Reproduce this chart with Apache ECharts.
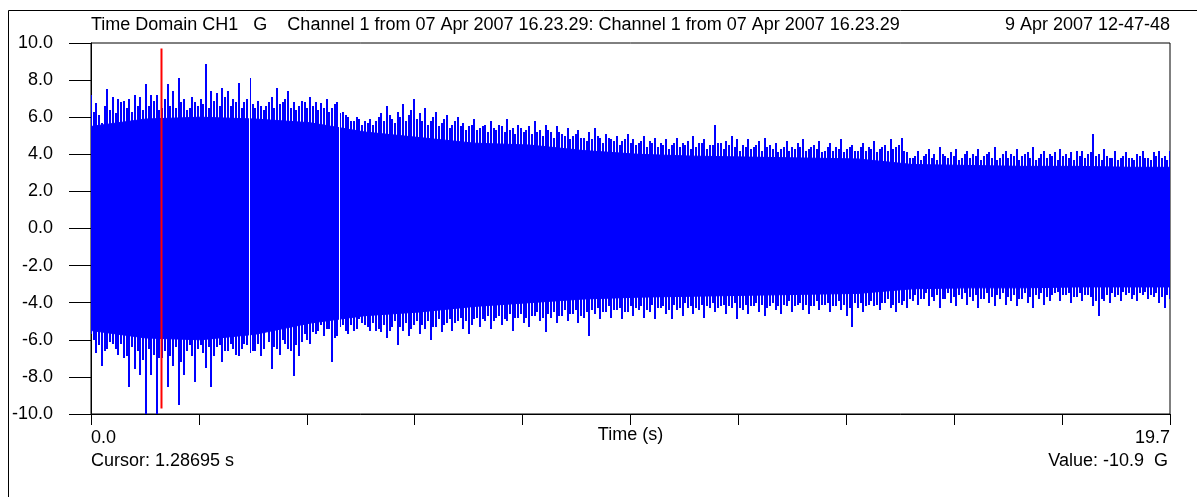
<!DOCTYPE html>
<html><head><meta charset="utf-8">
<script src="https://cdn.jsdelivr.net/npm/echarts@6/dist/echarts.min.js"></script>
<style>html,body{margin:0;padding:0;background:#fff}#c{width:1197px;height:497px}</style>
</head><body><div id="c"></div>
<script>
// ---- texts ----
const titleText = 'Time Domain CH1   G    Channel 1 from 07 Apr 2007 16.23.29: Channel 1 from 07 Apr 2007 16.23.29';
const dateText = '9 Apr 2007 12-47-48';
const cursorText = 'Cursor: 1.28695 s';
const valueText = 'Value: -10.9  G';
const xAxisName = 'Time (s)';
// ---- axes ----
const xMin = 0, xMax = 19.7, xInterval = 1.97;
const yMin = -10, yMax = 10, yInterval = 2;
const xTickLabels = ['0.0', '19.7'];
// ---- signal: peak values every 0.1 s starting at 0.0 s ----
const sampleStep = 0.1;
const upperPeaks = [
 7.2, 6.75, 5.7, 7.5, 7.1, 7.0, 6.9, 7.0, 7.2, 7.1,
 7.8, 7.2, 7.2, 6.5, 7.8, 7.4, 8.1, 7.0, 6.5, 6.8,
 7.0, 8.85, 7.4, 7.3, 7.6, 7.4, 7.0, 7.85, 6.8, 8.1,
 6.5, 6.6, 6.6, 7.1, 7.6, 6.8, 7.4, 6.8, 6.6, 6.8,
 7.1, 6.8, 6.75, 7.0, 6.5, 6.8, 6.3, 6.0, 5.8, 5.9,
 5.8, 5.9, 5.8, 6.2, 6.6, 5.9, 6.3, 6.7, 6.1, 7.0,
 6.2, 6.5, 5.8, 6.3, 5.7, 6.1, 5.6, 6.0, 5.7, 5.5,
 5.9, 5.4, 5.6, 5.8, 5.3, 5.5, 5.9, 5.4, 5.6, 5.2,
 5.5, 5.8, 5.3, 5.6, 5.2, 5.5, 5.1, 5.4, 5.0, 5.3,
 4.9, 5.2, 5.4, 4.9, 5.1, 4.8, 5.0, 4.7, 5.1, 4.8,
 4.6, 5.0, 4.7, 4.9, 4.6, 4.8, 4.5, 4.9, 4.6, 4.7,
 5.0, 4.6, 4.8, 4.5, 5.6, 4.6, 4.7, 5.0, 4.8, 4.5,
 4.8, 4.4, 4.7, 4.9, 4.5, 4.6, 4.3, 4.7, 4.4, 4.6,
 4.8, 4.3, 4.5, 4.7, 4.2, 4.6, 4.4, 4.8, 4.3, 4.5,
 4.2, 4.6, 4.4, 4.7, 4.3, 4.5, 4.8, 4.4, 4.9, 4.1,
 3.8, 4.2, 3.9, 4.3, 4.0, 4.4, 3.9, 4.1, 4.3, 3.8,
 4.2, 4.0, 4.3, 3.9, 4.1, 4.4, 3.8, 4.2, 4.0, 4.3,
 3.9, 4.1, 4.4, 3.8, 4.2, 4.0, 4.1, 4.3, 4.0, 4.1,
 4.2, 4.2, 4.0, 5.1, 4.0, 4.3, 3.8, 4.2, 3.8, 4.1,
 3.8, 4.0, 4.2, 3.8, 4.1, 4.2, 3.9, 4.2
];
const lowerPeaks = [
 -5.7, -6.7, -7.4, -6.5, -6.2, -6.8, -7.0, -8.55, -7.6, -7.9,
 -10.0, -7.9, -10.9, -7.0, -8.55, -7.4, -9.5, -7.9, -6.3, -8.3,
 -6.3, -7.5, -8.55, -6.4, -7.2, -6.6, -6.5, -6.9, -6.2, -6.7,
 -6.6, -6.9, -5.5, -7.6, -6.5, -6.0, -6.5, -7.95, -6.9, -5.7,
 -6.2, -5.7, -5.2, -5.4, -7.2, -5.8, -5.2, -5.7, -5.5, -4.9,
 -5.2, -5.5, -5.5, -5.6, -5.9, -5.3, -6.3, -5.5, -5.8, -5.2,
 -5.7, -5.4, -6.0, -5.3, -5.6, -5.1, -5.5, -5.0, -5.4, -5.7,
 -4.9, -5.3, -5.0, -5.4, -4.8, -5.2, -5.0, -5.5, -4.8, -5.1,
 -5.3, -4.7, -5.0, -5.6, -4.8, -5.1, -4.7, -5.0, -4.6, -5.1,
 -4.8, -5.8, -4.6, -4.9, -4.5, -4.8, -4.4, -4.9, -4.5, -4.7,
 -4.4, -4.8, -4.5, -4.9, -4.3, -4.6, -4.9, -4.4, -4.7, -4.3,
 -4.6, -4.4, -4.8, -4.3, -4.5, -4.2, -4.6, -4.3, -4.9, -4.4,
 -4.6, -4.2, -4.5, -4.7, -4.2, -4.4, -4.6, -4.2, -4.5, -4.1,
 -4.4, -4.6, -4.2, -4.4, -4.1, -4.5, -4.2, -4.4, -4.7, -5.3,
 -4.3, -4.5, -4.1, -4.2, -4.4, -4.0, -4.3, -4.5, -4.1, -4.3,
 -3.9, -4.1, -3.8, -4.2, -3.9, -4.3, -3.8, -4.0, -4.2, -3.8,
 -4.1, -3.9, -4.3, -3.8, -4.0, -4.2, -3.8, -4.1, -3.9, -4.2,
 -3.8, -4.0, -4.3, -3.8, -4.1, -3.9, -3.5, -3.9, -3.6, -4.0,
 -3.7, -3.9, -3.6, -4.2, -4.7, -3.9, -4.0, -3.7, -3.9, -3.6,
 -3.8, -3.9, -3.6, -3.8, -3.7, -4.0, -4.3, -3.8
];
// ---- in-between peaks every 0.1 s starting at 0.05 s ----
const midOffset = 0.05;
const upperMid = [
 6.3, 6.1, 6.6, 6.4, 6.2, 6.8, 6.5, 6.3, 6.6, 6.4,
 6.6, 6.9, 6.4, 7.0, 6.6, 6.5, 6.8, 6.4, 7.1, 6.6,
 6.7, 6.5, 6.9, 6.6, 7.1, 6.6, 6.8, 6.5, 7.0, 6.7,
 6.9, 6.4, 6.8, 6.5, 6.7, 7.0, 6.5, 6.4, 6.9, 6.5,
 6.6, 6.4, 6.5, 6.3, 6.7, 6.2, 6.1, 5.8, 6.0, 5.6,
 5.7, 5.6, 6.0, 5.8, 6.1, 5.7, 6.0, 5.8, 6.4, 5.9,
 5.8, 5.6, 6.0, 5.5, 5.9, 5.4, 5.8, 5.5, 5.3, 5.6,
 5.3, 5.5, 5.2, 5.4, 5.6, 5.2, 5.3, 5.1, 5.4, 5.3,
 5.1, 5.2, 5.0, 5.3, 4.9, 5.2, 5.0, 4.8, 5.1, 4.9,
 4.7, 4.8, 5.0, 4.6, 4.9, 4.7, 4.5, 4.8, 4.6, 4.5,
 4.7, 4.4, 4.6, 4.4, 4.5, 4.3, 4.6, 4.4, 4.5, 4.3,
 4.4, 4.6, 4.3, 4.5, 4.6, 4.3, 4.5, 4.4, 4.2, 4.4,
 4.3, 4.5, 4.2, 4.4, 4.3, 4.1, 4.4, 4.2, 4.3, 4.4,
 4.2, 4.4, 4.3, 4.1, 4.4, 4.2, 4.3, 4.1, 4.4, 4.2,
 4.4, 4.2, 4.3, 4.1, 4.4, 4.2, 4.3, 4.5, 4.2, 3.8,
 3.9, 3.7, 4.0, 3.8, 3.7, 4.0, 3.8, 3.9, 3.7, 4.0,
 3.8, 3.9, 3.7, 4.0, 3.8, 3.7, 4.0, 3.8, 3.9, 3.7,
 4.0, 3.8, 3.7, 4.0, 3.8, 3.9, 3.7, 3.9, 3.8, 3.7,
 3.9, 3.8, 4.1, 3.9, 3.7, 3.9, 3.8, 3.7, 3.9, 3.8,
 3.7, 3.9, 3.8, 3.7, 3.9, 3.8, 3.7
];
const lowerMid = [
 -6.0, -6.3, -6.6, -6.1, -6.5, -6.2, -6.9, -6.4, -6.6, -7.1,
 -6.5, -6.8, -7.0, -6.6, -6.9, -6.4, -7.2, -6.6, -6.9, -6.5,
 -6.7, -6.4, -6.9, -6.3, -6.6, -6.2, -6.8, -6.5, -6.3, -6.6,
 -6.2, -6.5, -6.1, -6.4, -6.8, -6.2, -6.6, -6.3, -6.1, -6.0,
 -5.6, -5.5, -5.8, -5.4, -5.9, -5.3, -5.5, -5.2, -5.4, -5.1,
 -5.3, -5.1, -5.4, -5.2, -5.5, -5.0, -5.3, -5.1, -5.4, -5.0,
 -5.2, -5.0, -5.3, -4.9, -5.2, -4.9, -5.1, -4.8, -5.0, -5.2,
 -4.8, -4.9, -4.7, -5.0, -4.7, -4.9, -4.6, -4.8, -4.6, -4.8,
 -4.7, -4.5, -4.8, -4.6, -4.5, -4.7, -4.4, -4.6, -4.4, -4.7,
 -4.5, -4.4, -4.3, -4.5, -4.2, -4.4, -4.3, -4.5, -4.2, -4.3,
 -4.2, -4.4, -4.1, -4.3, -4.2, -4.4, -4.1, -4.3, -4.0, -4.2,
 -4.3, -4.1, -4.2, -4.0, -4.3, -4.1, -4.2, -4.0, -4.3, -4.1,
 -4.2, -4.0, -4.1, -4.3, -4.0, -4.2, -4.1, -3.9, -4.2, -4.0,
 -4.1, -4.2, -3.9, -4.1, -4.0, -4.2, -3.9, -4.1, -4.3, -4.0,
 -4.0, -4.2, -3.9, -4.1, -4.0, -3.8, -4.1, -4.0, -3.9, -3.8,
 -3.6, -3.8, -3.5, -3.7, -3.6, -3.8, -3.5, -3.7, -3.6, -3.5,
 -3.7, -3.6, -3.8, -3.5, -3.7, -3.6, -3.5, -3.7, -3.6, -3.8,
 -3.5, -3.7, -3.6, -3.5, -3.7, -3.6, -3.4, -3.6, -3.5, -3.7,
 -3.5, -3.6, -3.7, -3.9, -3.8, -3.6, -3.5, -3.6, -3.4, -3.5,
 -3.6, -3.5, -3.4, -3.6, -3.5, -3.7, -3.6
];
// ---- dense body of the signal (envelope, per second) ----
const baseTimes = [0, 1, 2, 3, 4, 5, 6, 7, 8, 9, 10, 11, 12, 13, 14, 15, 16, 17, 18, 19, 19.7];
const upperBase = [5.5, 5.9, 6.0, 5.9, 5.7, 5.2, 4.9, 4.6, 4.5, 4.2, 4.0, 3.9, 3.85, 3.8, 3.75, 3.45, 3.4, 3.35, 3.35, 3.3, 3.3];
const lowerBase = [-5.5, -5.9, -6.0, -5.7, -5.1, -4.7, -4.5, -4.2, -4.0, -3.8, -3.7, -3.65, -3.6, -3.55, -3.5, -3.25, -3.2, -3.2, -3.15, -3.15, -3.15];
// ---- markers ----
const cursorTime = 1.28695;
const cursorSpan = [9.7, -9.7];
const dropoutTimes = [2.88, 4.53];

const FONT = "'Liberation Sans', Arial, sans-serif";
const FS = 18;
const BLUE = '#0000ff';

const peakData = upperPeaks.map((u, i) => [+(i * sampleStep).toFixed(2), u, lowerPeaks[i]])
  .concat(upperMid.map((u, i) => [+(i * sampleStep + midOffset).toFixed(2), u, lowerMid[i]]));

const chart = echarts.init(document.getElementById('c'), null, { renderer: 'canvas' });
chart.setOption({
  animation: false,
  backgroundColor: '#fff',
  textStyle: { fontFamily: FONT, fontSize: FS, color: '#000' },
  grid: { left: 91, right: 27, top: 43, bottom: 83, show: true, borderColor: '#000', borderWidth: 1, backgroundColor: 'transparent' },
  xAxis: {
    type: 'value', min: xMin, max: xMax, interval: xInterval,
    name: xAxisName, nameLocation: 'middle', nameGap: 12, nameMoveOverlap: false,
    nameTextStyle: { fontFamily: FONT, fontSize: FS, color: '#000', verticalAlign: 'top' },
    axisLine: { show: true, onZero: false, lineStyle: { color: '#000', width: 1 } },
    axisTick: { show: true, inside: false, length: 11, lineStyle: { color: '#000', width: 1 } },
    splitLine: { show: false },
    axisLabel: {
      show: true, margin: 15, fontFamily: FONT, fontSize: FS, color: '#000',
      showMinLabel: true, showMaxLabel: true,
      alignMinLabel: 'left', alignMaxLabel: 'right',
      formatter: v => (Math.abs(v - xMin) < 1e-6 ? xTickLabels[0] : (Math.abs(v - xMax) < 1e-6 ? xTickLabels[1] : ''))
    }
  },
  yAxis: {
    type: 'value', min: yMin, max: yMax, interval: yInterval,
    axisLine: { show: true, onZero: false, lineStyle: { color: '#000', width: 1 } },
    axisTick: { show: true, inside: false, length: 22, lineStyle: { color: '#000', width: 1 } },
    splitLine: { show: false },
    axisLabel: { margin: 38, fontFamily: FONT, fontSize: FS, color: '#000', formatter: v => v.toFixed(1) }
  },
  graphic: [
    { type: 'rect', silent: true, z: -1, shape: { x: 8.5, y: 10.5, width: 1400, height: 700 }, style: { fill: 'none', stroke: '#000', lineWidth: 1 } },
    { type: 'text', silent: true, x: 91, y: 25, style: { text: titleText, font: FS + 'px ' + FONT, fill: '#000', textAlign: 'left', textVerticalAlign: 'middle' } },
    { type: 'text', silent: true, x: 1170, y: 25, style: { text: dateText, font: FS + 'px ' + FONT, fill: '#000', textAlign: 'right', textVerticalAlign: 'middle' } },
    { type: 'text', silent: true, x: 91, y: 461, style: { text: cursorText, font: FS + 'px ' + FONT, fill: '#000', textAlign: 'left', textVerticalAlign: 'middle' } },
    { type: 'text', silent: true, x: 1168, y: 461, style: { text: valueText, font: FS + 'px ' + FONT, fill: '#000', textAlign: 'right', textVerticalAlign: 'middle' } }
  ],
  series: [
    {
      type: 'custom', name: 'body', clip: true, z: 2, silent: true,
      data: [[baseTimes[0], upperBase[0], lowerBase[0]]],
      encode: { x: 0, y: [1, 2] },
      renderItem: (params, api) => {
        const pts = [];
        for (let i = 0; i < baseTimes.length; i++) pts.push(api.coord([baseTimes[i], upperBase[i]]));
        for (let i = baseTimes.length - 1; i >= 0; i--) pts.push(api.coord([baseTimes[i], lowerBase[i]]));
        return { type: 'polygon', shape: { points: pts }, style: { fill: BLUE, stroke: BLUE, lineWidth: 1 } };
      }
    },
    {
      type: 'custom', name: 'peaks', clip: true, z: 3, silent: true,
      data: peakData,
      encode: { x: 0, y: [1, 2] },
      renderItem: (params, api) => {
        const top = api.coord([api.value(0), api.value(1)]);
        const bot = api.coord([api.value(0), api.value(2)]);
        const x = Math.round(top[0] - 1);
        return { type: 'rect', shape: { x: x, y: Math.round(top[1]), width: 2, height: Math.round(bot[1]) - Math.round(top[1]) }, style: { fill: BLUE } };
      }
    },
    {
      type: 'custom', name: 'dropouts', clip: true, z: 4, silent: true,
      data: dropoutTimes.map(t => [t, 9, -9]),
      encode: { x: 0, y: [1, 2] },
      renderItem: (params, api) => {
        const a = api.coord([api.value(0), api.value(1)]);
        const b = api.coord([api.value(0), api.value(2)]);
        const x = Math.round(a[0]) + 0.5;
        return { type: 'line', shape: { x1: x, y1: a[1], x2: x, y2: b[1] }, style: { stroke: '#ffffff', lineWidth: 1 } };
      }
    },
    {
      type: 'line', name: 'cursor', z: 5, silent: true, symbol: 'none',
      data: [[cursorTime, cursorSpan[0]], [cursorTime, cursorSpan[1]]],
      lineStyle: { color: '#ff0000', width: 2 }
    }
  ]
});
</script></body></html>
